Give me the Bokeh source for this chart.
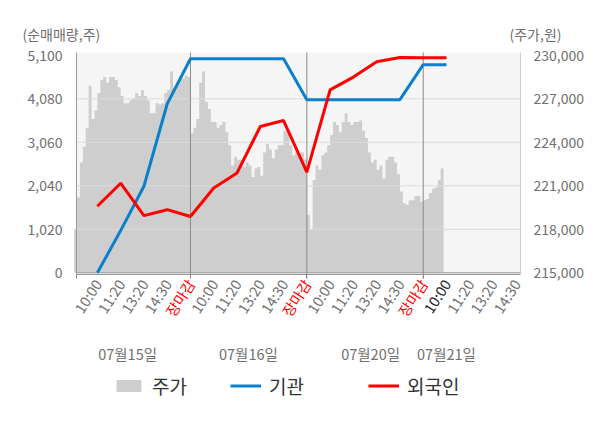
import numpy as np
from bokeh.plotting import figure
from bokeh.models import (Range1d, LinearAxis, FixedTicker, ColumnDataSource,
                          Label, Legend, LegendItem, NumeralTickFormatter)
from bokeh.embed import file_html
from bokeh.resources import INLINE

FONT = "Noto Sans CJK KR"

# ---------------- data ----------------
tick_labels = ["10:00", "11:20", "13:20", "14:30", "장마감",
               "10:00", "11:20", "13:20", "14:30", "장마감",
               "10:00", "11:20", "13:20", "14:30", "장마감",
               "10:00", "11:20", "13:20", "14:30"]
tick_pos = list(range(1, 20))
session_close = [5, 10, 15]
current_tick = 16

day_labels = ["07월15일", "07월16일", "07월20일", "07월21일"]
day_label_pos = [2.3, 7.49, 12.74, 16.0]

left_ticks = [0, 1020, 2040, 3060, 4080, 5100]
right_ticks = [215000, 218000, 221000, 224000, 227000, 230000]

# intraday price, 40 samples per session (step 0.125 of a session's 5 ticks)
price_day1 = [218000, 220200, 222600, 223700, 225000, 227900, 225600, 226200, 227400, 228300,
              228500, 228100, 228500, 228500, 228300, 227800, 227200, 226700, 226700, 226900,
              227000, 227400, 227200, 227600, 227200, 226900, 226000, 226000, 226700, 226600,
              226700, 227400, 227600, 228900, 227800, 228100, 228500, 228400, 228600, 228500]
price_day2 = [224600, 225000, 225600, 228100, 228900, 226800, 226300, 225400, 225400, 225000,
              225200, 225400, 224700, 223800, 222400, 223000, 222800, 222800, 222300, 222600,
              222400, 221600, 222200, 222300, 221700, 223300, 223900, 223500, 222900, 223500,
              223800, 223800, 224800, 224700, 223800, 223100, 223300, 223300, 223300, 222800]
price_day3 = [219000, 218000, 221400, 222400, 222100, 223100, 223300, 223800, 224500, 225400,
              225200, 224700, 225400, 226000, 225400, 225200, 225400, 225400, 225500, 224800,
              224300, 223300, 222600, 222800, 222100, 222400, 221500, 222800, 223000, 223000,
              222600, 221800, 220600, 219800, 219700, 220000, 220000, 220300, 220300, 219900]
price_day4 = [220000, 220100, 220500, 220800, 220900, 221400, 222200, 223300]

line_x = list(range(1, 17))
institution = [0, 990, 2030, 3960, 5020, 5020, 5020, 5020, 5020, 4060,
               4060, 4060, 4060, 4060, 4880, 4880]
foreign = [1560, 2100, 1340, 1480, 1320, 1990, 2340, 3430, 3570, 2360,
           4290, 4590, 4950, 5050, 5040, 5040]

# ---------------- layout geometry ----------------
W, H = 592, 420
CX0, CX1, CY0, CY1 = 76, 520, 52, 274          # chart box (canvas px)
XR = (0.103, 19.18)                            # x domain shown in the chart box
YL = (-40.0, 5166.0)                           # left (net volume) domain
YR = (214883.0, 230193.0)                      # right (price) domain


def ext_x(r):
    k = (r[1] - r[0]) / (CX1 - CX0)
    return r[0] - CX0 * k, r[0] + (W - CX0) * k


def ext_y(r):
    k = (r[1] - r[0]) / (CY1 - CY0)
    return r[0] - (H - CY1) * k, r[1] + CY0 * k


units_per_px = (YL[1] - YL[0]) / (CY1 - CY0)
axis_y = YL[0] - 0.3 * units_per_px            # bottom axis line just under the 0 line
tick_bottom = YL[0] - 4 * units_per_px         # session lines run a little below the axis

p = figure(width=W, height=H, output_backend="svg", toolbar_location=None,
           x_range=Range1d(*ext_x(XR)), y_range=Range1d(*ext_y(YL)), min_border=0)
p.min_border_left = p.min_border_right = p.min_border_top = p.min_border_bottom = 0
p.extra_y_ranges = {"price": Range1d(*ext_y(YR))}
p.background_fill_color = "white"
p.border_fill_color = "white"
p.outline_line_color = None
p.grid.visible = False
p.xaxis.visible = False
p.yaxis.visible = False

# chart background
bg = p.quad(left=[XR[0]], right=[XR[1]], bottom=[YL[0]], top=[YL[1]],
            fill_color="#f5f5f5", line_color=None)
bg.level = "image"

# price area
days = [price_day1, price_day2, price_day3, price_day4]
px, py = [], []
for d, vals in enumerate(days):
    xs = d * 5 + np.arange(len(vals)) * 0.125
    px.extend(xs.tolist())
    py.extend(vals)
price_src = ColumnDataSource(dict(x=px, y1=[right_ticks[0]] * len(px), y2=py))
area = p.varea_step(x="x", y1="y1", y2="y2", step_mode="after", source=price_src,
                    fill_color="#cecece", y_range_name="price")
area.level = "image"

# grid lines
g = p.segment(x0=XR[0], x1=XR[1], y0=left_ticks[1:-1], y1=left_ticks[1:-1],
              line_color="#dcdcdc", line_width=1)
g.level = "underlay"
z = p.segment(x0=[XR[0]], x1=[XR[1]], y0=[left_ticks[0]], y1=[left_ticks[0]],
              line_color="#9a9a9a", line_width=1)
z.level = "underlay"
v = p.segment(x0=session_close, x1=session_close, y0=tick_bottom, y1=YL[1],
              line_color="#8a8a8a", line_width=1)
v.level = "underlay"

# lines
inst_r = p.line(line_x, institution, line_color="#0a80cc", line_width=3)
forg_r = p.line(line_x, foreign, line_color="#ff0000", line_width=3)

# left axis
la = LinearAxis(ticker=FixedTicker(ticks=left_ticks), formatter=NumeralTickFormatter(format="0,0"),
                fixed_location=XR[0], bounds=YL)
la.axis_line_color = "#999999"
la.major_tick_line_color = None
la.minor_tick_line_color = None
la.major_label_standoff = 8
la.major_label_text_font = FONT
la.major_label_text_font_size = "14px"
la.major_label_text_color = "#707070"
p.add_layout(la, "left")

# right axis
ra = LinearAxis(y_range_name="price", ticker=FixedTicker(ticks=right_ticks),
                formatter=NumeralTickFormatter(format="0,0"), fixed_location=XR[1], bounds=YR)
ra.axis_line_color = "#cccccc"
ra.major_tick_line_color = None
ra.minor_tick_line_color = None
ra.major_label_standoff = 7
ra.major_label_text_font = FONT
ra.major_label_text_font_size = "14px"
ra.major_label_text_color = "#707070"
p.add_layout(ra, "right")

# bottom axis line with session ticks
ba = LinearAxis(ticker=FixedTicker(ticks=[XR[0]] + session_close), fixed_location=axis_y,
                bounds=XR)
ba.axis_line_color = "#999999"
ba.major_tick_line_color = "#8a8a8a"
ba.major_tick_out = 4
ba.major_tick_in = 0
ba.minor_tick_line_color = None
ba.major_label_text_alpha = 0
p.add_layout(ba, "below")

# time tick labels, coloured by kind
ang = np.deg2rad(57)
grey_i = [i for i, t in enumerate(tick_labels) if t != "장마감" and tick_pos[i] != current_tick]
red_i = [i for i, t in enumerate(tick_labels) if t == "장마감"]
cur_i = [i for i in range(len(tick_labels)) if tick_pos[i] == current_tick]
for idxs, col in [(grey_i, "#707070"), (red_i, "#ff0000"), (cur_i, "#222222")]:
    ax = LinearAxis(ticker=FixedTicker(ticks=[tick_pos[i] for i in idxs]),
                    major_label_overrides={tick_pos[i]: tick_labels[i] for i in idxs},
                    fixed_location=axis_y, bounds=XR)
    ax.axis_line_color = None
    ax.major_tick_line_color = None
    ax.minor_tick_line_color = None
    ax.major_tick_out = 0
    ax.major_label_standoff = 6
    ax.major_label_orientation = ang
    ax.major_label_text_font = FONT
    ax.major_label_text_font_size = "14.5px"
    ax.major_label_text_color = col
    p.add_layout(ax, "below")

# date labels
da = LinearAxis(ticker=FixedTicker(ticks=day_label_pos),
                major_label_overrides={pos: lab for pos, lab in zip(day_label_pos, day_labels)},
                fixed_location=axis_y, bounds=XR)
da.axis_line_color = None
da.major_tick_line_color = None
da.minor_tick_line_color = None
da.major_tick_out = 0
da.major_label_standoff = 68
da.major_label_text_font = FONT
da.major_label_text_font_size = "14.5px"
da.major_label_text_color = "#707070"
p.add_layout(da, "below")

# axis titles
p.add_layout(Label(x=22, y=H - 33, x_units="screen", y_units="screen", text="(순매매량,주)",
                   text_align="left", text_baseline="middle", text_font=FONT,
                   text_font_size="14px", text_color="#707070"))
p.add_layout(Label(x=509, y=H - 33, x_units="screen", y_units="screen", text="(주가,원)",
                   text_align="left", text_baseline="middle", text_font=FONT,
                   text_font_size="14px", text_color="#707070"))

# legends
for lab, rend, lx in [("주가", area, 113), ("기관", inst_r, 230), ("외국인", forg_r, 368)]:
    lg = Legend(items=[LegendItem(label=lab, renderers=[rend])], location=(lx, H - 399),
                orientation="horizontal", border_line_color=None, background_fill_alpha=0,
                padding=0, margin=0, glyph_width=31, glyph_height=15, label_standoff=8,
                label_text_font=FONT, label_text_font_size="19px", label_text_color="#333333",
                label_height=20)
    p.add_layout(lg)

open("out.html", "w").write(file_html(p, INLINE))
